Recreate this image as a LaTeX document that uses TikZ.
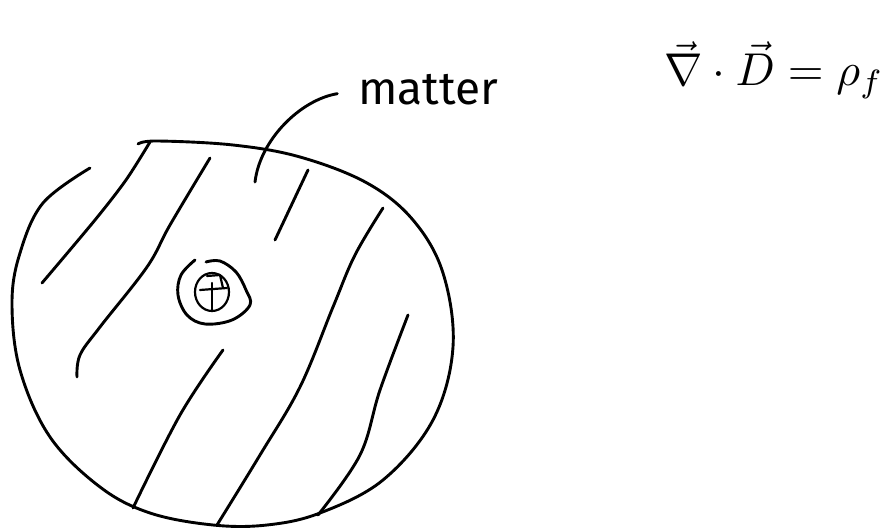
\documentclass[tikz,border=0pt]{standalone}
\usepackage{graphicx}
\usepackage{fontspec}
\setsansfont{Fira Sans}
\begin{document}
\begin{tikzpicture}[x=1pt,y=-1pt,
  ink/.style={line width=2.9pt,line cap=round,line join=round,black},
  thin ink/.style={line width=2.2pt,line cap=round,line join=round,black}]
\useasboundingbox (0,0) rectangle (895,529);
% blob outline
\draw[ink] plot[smooth,tension=0.6] coordinates {(90,168) (43,203) (20,253) (12,303) (20,370) (50,437) (100,487) (150,513) (213,525) (267,525) (320,513) (383,480) (433,420) (453,347) (443,273) (413,220) (367,183) (300,157) (233,145) (157,141) (138,144)};
% hatch strokes
\draw[ink] plot[smooth,tension=0.5] coordinates {(42,283) (95,220) (126,180) (150,142)};
\draw[ink] plot[smooth,tension=0.6] coordinates {(210,158) (170,225) (147,267) (100,327) (80,355) (77,377)};
\draw[ink] (308,170) -- (275,240);
\draw[ink] plot[smooth,tension=0.6] coordinates {(383,208) (355,255) (333,307) (300,387) (260,455) (217,525)};
\draw[ink] plot[smooth,tension=0.6] coordinates {(408,315) (380,390) (360,455) (318,515)};
\draw[ink] plot[smooth,tension=0.6] coordinates {(223,350) (180,415) (133,508)};
% pointer to label
\node[font=\sffamily\fontsize{46}{46}\selectfont, anchor=base west, inner sep=0pt] (matter) at (358,105) {matter};
\coordinate (tail) at (255,182);
\draw[ink, shorten >=21pt] (tail) .. controls (260,140) and (300,100) .. (matter.west);
% charge symbol
\coordinate (q) at (212,292);
\draw[ink] plot[smooth,tension=0.6] coordinates {(195,260) (181,275) (178,295) (187,315) (205,324) (232,320) (250,305) (246,290) (236,272) (220,261) (206,262)};
\draw[thin ink] (q) ellipse (17 and 19);
\draw[thin ink] (200,290) -- (227,288);
\draw[thin ink] (212,283) -- (212,311);
\draw[thin ink] (207,276) -- (220,275) -- (223,288);
% equation
\node[anchor=base, inner sep=0pt] (eq) at (774,86) {\scalebox{4.6}{$\vec{\nabla}\cdot\vec{D}=\rho_f$}};
\end{tikzpicture}
\end{document}
